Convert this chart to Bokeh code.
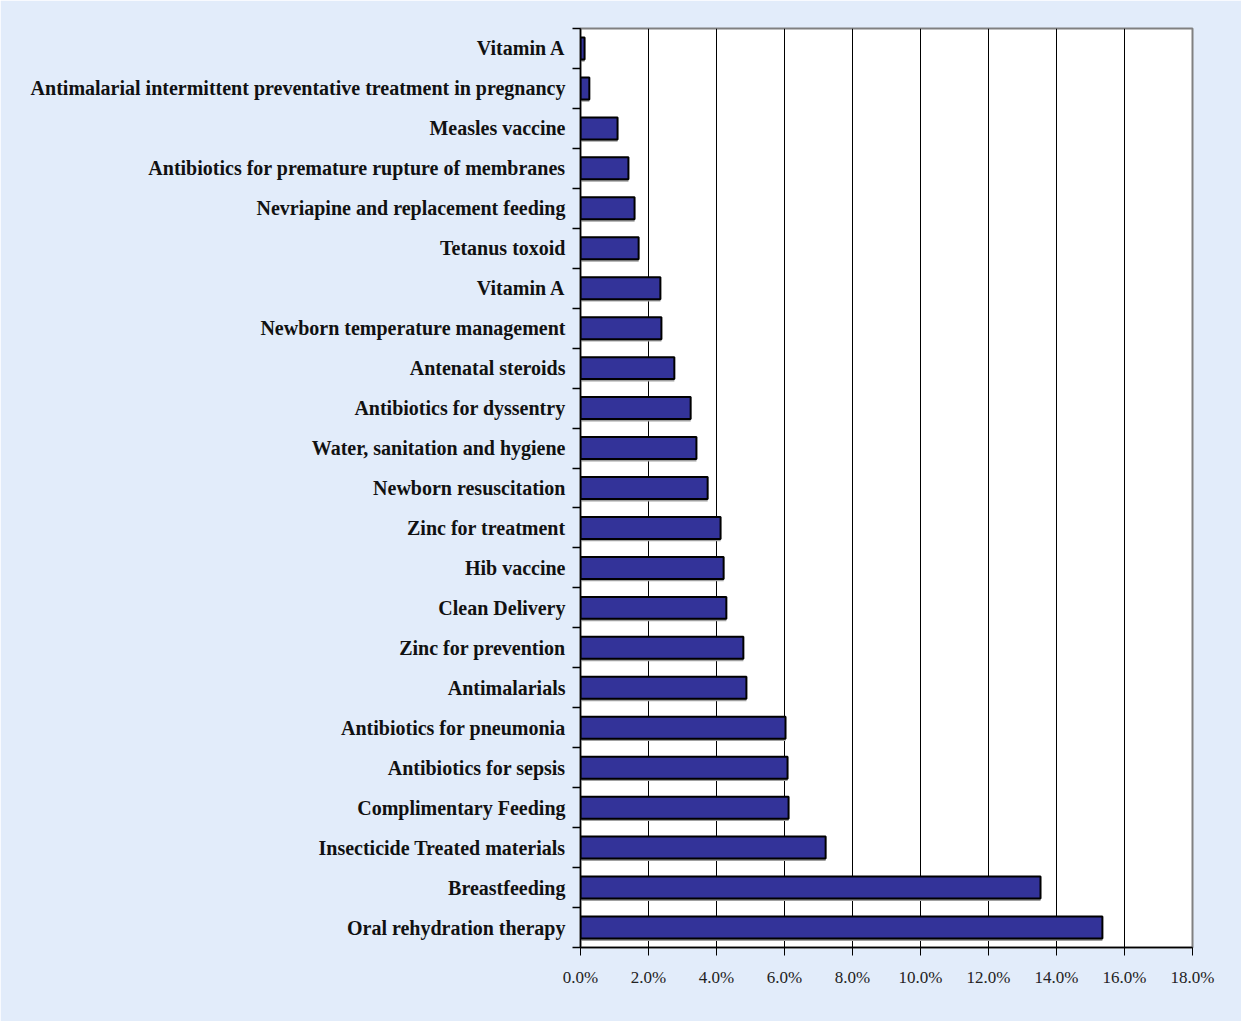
from bokeh.plotting import figure
from bokeh.models import FixedTicker, Range1d, PrintfTickFormatter
from bokeh.embed import file_html
from bokeh.resources import INLINE

categories = [
    "Vitamin A",
    "Antimalarial intermittent preventative treatment in pregnancy",
    "Measles vaccine",
    "Antibiotics for premature rupture of membranes",
    "Nevriapine and replacement feeding",
    "Tetanus toxoid",
    "Vitamin A",
    "Newborn temperature management",
    "Antenatal steroids",
    "Antibiotics for dyssentry",
    "Water, sanitation and hygiene",
    "Newborn resuscitation",
    "Zinc for treatment",
    "Hib vaccine",
    "Clean Delivery",
    "Zinc for prevention",
    "Antimalarials",
    "Antibiotics for pneumonia",
    "Antibiotics for sepsis",
    "Complimentary Feeding",
    "Insecticide Treated materials",
    "Breastfeeding",
    "Oral rehydration therapy",
]
values = [0.12, 0.26, 1.09, 1.41, 1.59, 1.71, 2.35, 2.38, 2.76, 3.24, 3.41, 3.74,
          4.12, 4.21, 4.29, 4.79, 4.88, 6.03, 6.09, 6.12, 7.21, 13.53, 15.35]
x_ticks = [0, 2, 4, 6, 8, 10, 12, 14, 16, 18]

n = len(categories)
ypos = [n - 1 - i for i in range(n)]
shadow_y = [y - 0.06 for y in ypos]

p = figure(width=1241, height=1021, output_backend="svg", toolbar_location=None,
           x_range=Range1d(0, 18), y_range=Range1d(-0.5, n - 0.5),
           min_border_left=580, min_border_right=49, min_border_top=28, min_border_bottom=74,
           background_fill_color="white", border_fill_color="#e2ecfa")

p.hbar(y=shadow_y, right=values, left=0, height=0.55, fill_color="#a0a0a0",
       line_color=None)
p.hbar(y=ypos, right=values, left=0, height=0.55, fill_color="#333399",
       line_color="black", line_width=2)

p.outline_line_color = "#808080"
p.outline_line_width = 2

# x axis
p.xaxis.ticker = FixedTicker(ticks=x_ticks)
p.xaxis.formatter = PrintfTickFormatter(format="%.1f%%")
p.xaxis.axis_line_color = "black"
p.xaxis.axis_line_width = 1.5
p.xaxis.major_tick_out = 8
p.xaxis.major_tick_in = 0
p.xaxis.minor_tick_line_color = None
p.xaxis.major_label_text_font = "Liberation Serif"
p.xaxis.major_label_text_font_size = "17px"
p.xaxis.major_label_text_color = "#222222"
p.xaxis.major_label_standoff = 12

# y axis
p.yaxis.ticker = FixedTicker(ticks=ypos, minor_ticks=[k - 0.5 for k in range(n + 1)])
p.yaxis.major_label_overrides = {yp: c for yp, c in zip(ypos, categories)}
p.yaxis.axis_line_color = "black"
p.yaxis.axis_line_width = 1.5
p.yaxis.major_tick_line_color = None
p.yaxis.minor_tick_out = 8
p.yaxis.minor_tick_in = 0
p.yaxis.minor_tick_line_color = "black"
p.yaxis.minor_tick_line_width = 1.5
p.yaxis.major_label_text_font = "Liberation Serif"
p.yaxis.major_label_text_font_style = "bold"
p.yaxis.major_label_text_font_size = "20px"
p.yaxis.major_label_text_color = "#111111"
p.yaxis.major_label_standoff = 7

p.xgrid.ticker = FixedTicker(ticks=x_ticks)
p.xgrid.grid_line_color = "black"
p.xgrid.grid_line_width = 1
p.ygrid.grid_line_color = None

open("out.html", "w").write(file_html(p, INLINE))
